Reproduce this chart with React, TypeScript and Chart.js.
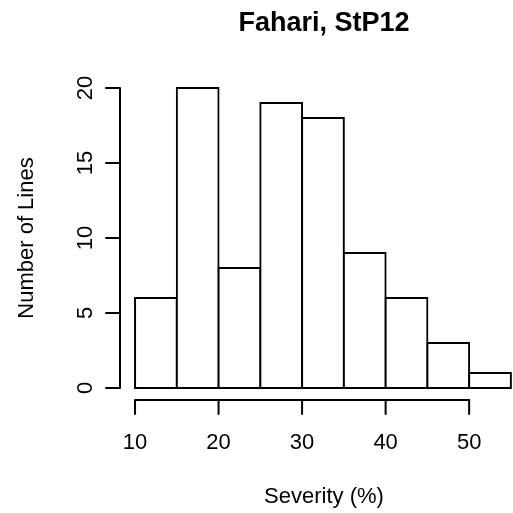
import React, { useEffect, useRef } from "react";
import { Chart, registerables } from "chart.js";

Chart.register(...registerables);

// Histogram data: bin edges and counts
const binEdges = [10, 15, 20, 25, 30, 35, 40, 45, 50, 55];
const counts = [6, 20, 8, 19, 18, 9, 6, 3, 1];
const xTicks = [10, 20, 30, 40, 50];
const yTicks = [0, 5, 10, 15, 20];
const titleText = "Fahari, StP12";
const xLabelText = "Severity (%)";
const yLabelText = "Number of Lines";

const FONT = '"Liberation Sans", Arial, Helvetica, sans-serif';

const rAxesPlugin = {
  id: "rAxes",
  afterDraw(chart: any) {
    const { ctx, chartArea, scales } = chart;
    const x = scales.x;
    const y = scales.y;
    ctx.save();
    ctx.strokeStyle = "#000";
    ctx.fillStyle = "#000";
    ctx.lineWidth = 2;
    ctx.lineCap = "round";

    // x axis (R style: from first to last tick)
    const ay = chartArea.bottom;
    const xs = xTicks.map((v) => x.getPixelForValue(v));
    ctx.beginPath();
    ctx.moveTo(xs[0], ay);
    ctx.lineTo(xs[xs.length - 1], ay);
    xs.forEach((px) => {
      ctx.moveTo(px, ay);
      ctx.lineTo(px, ay + 14);
    });
    ctx.stroke();

    // y axis
    const ax = chartArea.left;
    const ys = yTicks.map((v) => y.getPixelForValue(v));
    ctx.beginPath();
    ctx.moveTo(ax, ys[0]);
    ctx.lineTo(ax, ys[ys.length - 1]);
    ys.forEach((py) => {
      ctx.moveTo(ax, py);
      ctx.lineTo(ax - 14, py);
    });
    ctx.stroke();

    // x tick labels
    ctx.font = `22px ${FONT}`;
    ctx.textAlign = "center";
    ctx.textBaseline = "alphabetic";
    xTicks.forEach((v, i) => {
      ctx.fillText(String(v), xs[i], ay + 49);
    });

    // y tick labels (rotated, parallel to axis)
    yTicks.forEach((v, i) => {
      ctx.save();
      ctx.translate(ax - 28, ys[i]);
      ctx.rotate(-Math.PI / 2);
      ctx.fillText(String(v), 0, 0);
      ctx.restore();
    });

    const plotCenterX = 324;
    const plotCenterY = (chartArea.top + chartArea.bottom) / 2;

    // x axis title
    ctx.fillText(xLabelText, plotCenterX, ay + 103);

    // y axis title
    ctx.save();
    ctx.translate(33, plotCenterY);
    ctx.rotate(-Math.PI / 2);
    ctx.fillText(yLabelText, 0, 0);
    ctx.restore();

    // main title
    ctx.font = `bold 27px ${FONT}`;
    ctx.fillText(titleText, plotCenterX, 31);

    ctx.restore();
  },
};

export default function App() {
  const canvasRef = useRef<HTMLCanvasElement | null>(null);

  useEffect(() => {
    if (!canvasRef.current) return;
    const mids = counts.map((_, i) => (binEdges[i] + binEdges[i + 1]) / 2);
    const chart = new Chart(canvasRef.current, {
      type: "bar",
      data: {
        datasets: [
          {
            data: mids.map((m, i) => ({ x: m, y: counts[i] })),
            backgroundColor: "#ffffff",
            borderColor: "#000000",
            borderWidth: 2,
            borderSkipped: false,
            inflateAmount: 1,
            barPercentage: 1,
            categoryPercentage: 1,
          } as any,
        ],
      },
      options: {
        animation: false,
        responsive: false,
        devicePixelRatio: 1,
        layout: { padding: { left: 120, right: 0, top: 76, bottom: 113 } },
        plugins: {
          legend: { display: false },
          tooltip: { enabled: false },
          title: { display: false },
        },
        scales: {
          x: {
            type: "linear",
            display: false,
            offset: false,
            min: 8.2,
            max: 55.25,
            ticks: { stepSize: 5, includeBounds: false },
          },
          y: {
            type: "linear",
            display: false,
            min: -0.8,
            max: 20.8,
            ticks: { stepSize: 5, includeBounds: false },
          },
        },
      },
      plugins: [rAxesPlugin],
    });
    return () => chart.destroy();
  }, []);

  return (
    <div style={{ position: "absolute", left: 0, top: 0, width: 513, height: 513, background: "#fff" }}>
      <canvas ref={canvasRef} width={513} height={513} style={{ width: 513, height: 513 }} />
    </div>
  );
}
